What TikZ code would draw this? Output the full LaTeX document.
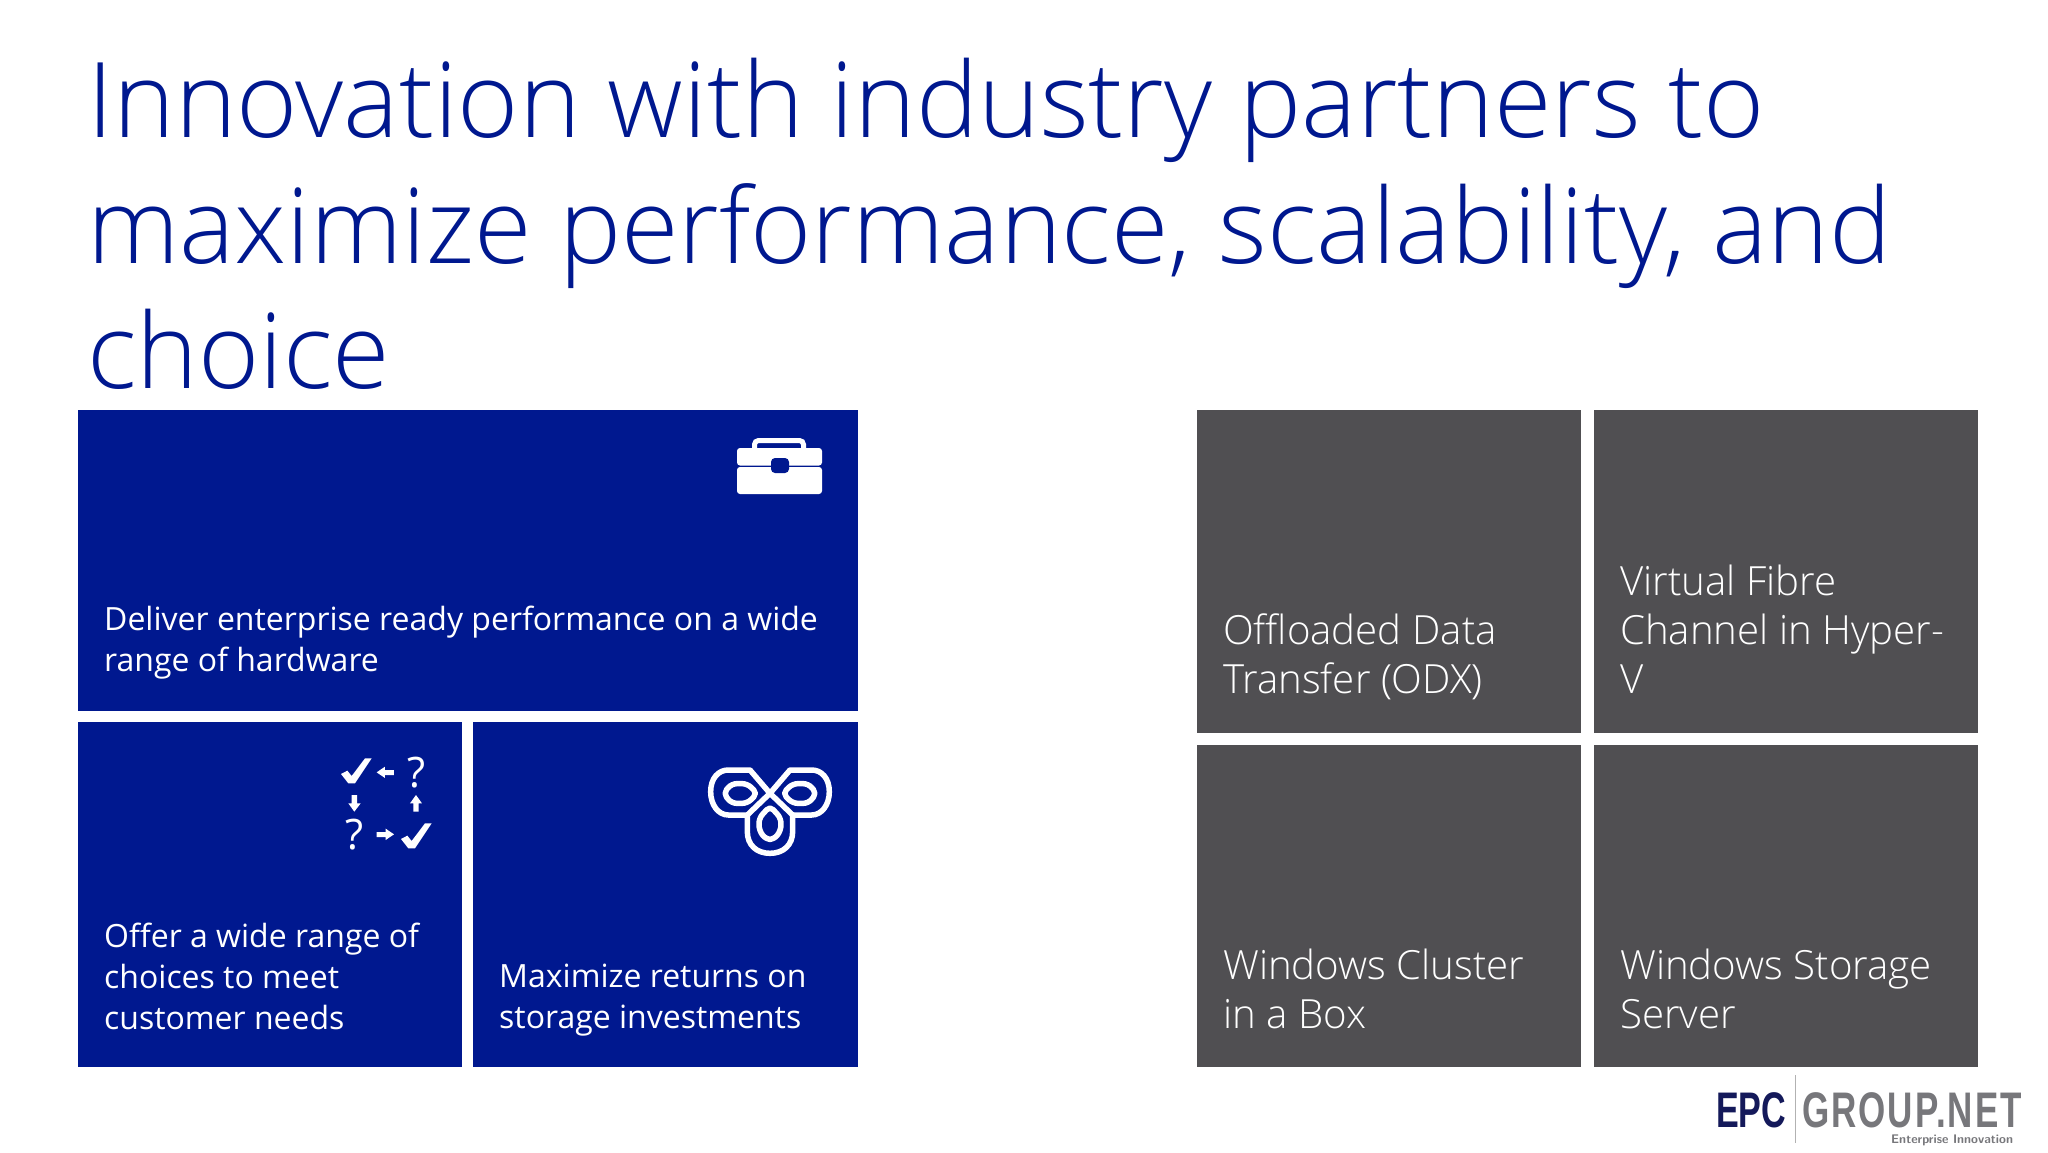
\documentclass[tikz,border=0pt]{standalone}
\usepackage{fontspec}
\setmainfont{Open Sans}[UprightFont=* Light]
\newfontfamily\tilefont{Open Sans}
\newfontfamily\logofont{Liberation Sans}[FakeStretch=0.62,BoldFont=* Bold]
\newfontfamily\logowide{Liberation Sans}[FakeStretch=0.70,BoldFont=* Bold,LetterSpace=4]
\definecolor{bluetile}{HTML}{00188F}
\definecolor{greytile}{HTML}{504F52}
\definecolor{logonavy}{HTML}{14195A}
\definecolor{logogrey}{HTML}{77777B}
\tikzset{
  titletext/.style={anchor=north west,inner sep=0pt,align=left,text=bluetile,font=\fontsize{104.5}{125.5}\selectfont},
  bluetext/.style={anchor=north west,inner sep=0pt,align=left,text=white,font=\tilefont\fontsize{32}{41}\selectfont},
  greytext/.style={anchor=north west,inner sep=0pt,align=left,text=white,font=\fontsize{40.2}{49}\selectfont},
  knotline/.style={draw=white,line width=5.5pt,line join=round},
  knotthin/.style={draw=white,line width=5.5pt,rounded corners=5pt,line join=round},
}
\begin{document}
\begin{tikzpicture}[x=1pt,y=-1pt]
\useasboundingbox (0,0) rectangle (2048,1152);
\fill[white] (0,0) rectangle (2048,1152);
% title
\node[titletext] (title) at (87,58) {Innovation with industry partners to\\maximize performance, scalability, and\\choice};
% tiles
\fill[bluetile] (78,410) rectangle (858,711);
\fill[bluetile] (78,722) rectangle (462,1067);
\fill[bluetile] (473,722) rectangle (858,1067);
\fill[greytile] (1197,410) rectangle (1581,733);
\fill[greytile] (1594,410) rectangle (1978,733);
\fill[greytile] (1197,745) rectangle (1581,1067);
\fill[greytile] (1594,745) rectangle (1978,1067);
% tile text
\node[bluetext] (t1) at (104,606) {Deliver enterprise ready performance on a wide\\range of hardware};
\node[bluetext] (t2) at (104,923) {Offer a wide range of\\choices to meet\\customer needs};
\node[bluetext] (t3) at (499,964) {Maximize returns on\\storage investments};
\node[greytext] (g1) at (1223,614) {Offloaded Data\\Transfer (ODX)};
\node[greytext] (g2) at (1620,565) {Virtual Fibre\\Channel in Hyper-\\V};
\node[greytext] (g3) at (1223,949) {Windows Cluster\\in a Box};
\node[greytext] (g4) at (1620,949) {Windows Storage\\Server};
% toolbox
\draw[white,line width=5pt,rounded corners=4pt] (754.5,450) -- (754.5,440.5) -- (803.5,440.5) -- (803.5,450);
\fill[white,rounded corners=3pt] (737,448) rectangle (822,465.5);
\fill[white,rounded corners=3pt] (737,467) rectangle (822,494);
\fill[bluetile,rounded corners=4pt] (771,458) rectangle (789,473);
% checks and questions
\begin{scope}[shift={(320,740)},x=0.3333pt,y=-0.3333pt]
\fill[white] (63,102)--(82,92)--(95,108)--(135,55)--(155,55)--(105,130)--(85,130)--cycle;
\fill[white] (243,297)--(262,287)--(275,303)--(315,250)--(335,250)--(285,325)--(265,325)--cycle;
\fill[white] (170,97)--(195,80)--(195,90)--(222,90)--(222,105)--(195,105)--(195,114)--cycle;
\fill[white] (222,283)--(197,266)--(197,276)--(170,276)--(170,291)--(197,291)--(197,300)--cycle;
\fill[white] (103,215)--(85,190)--(95,190)--(95,165)--(111,165)--(111,190)--(122,190)--cycle;
\fill[white] (288,165)--(270,190)--(280,190)--(280,215)--(296,215)--(296,190)--(306,190)--cycle;
\end{scope}
\node[text=white,inner sep=0pt,font=\tilefont\fontsize{42}{42}\selectfont] (q1) at (416.5,773) {?};
\node[text=white,inner sep=0pt,font=\tilefont\fontsize{42}{42}\selectfont] (q2) at (354.5,835) {?};
% knot
\begin{scope}[shift={(690,750)},x=0.3333pt,y=-0.3333pt]
\draw[knotline] (240,130)--(180,60)--(115,60) .. controls (85,60) and (62,85) .. (62,125) .. controls (62,165) and (85,195) .. (115,195) -- (172,195) -- (172,245) .. controls (172,285) and (200,310) .. (240,310) .. controls (280,310) and (308,285) .. (308,245) -- (308,195) -- (365,195) .. controls (395,195) and (418,165) .. (418,125) .. controls (418,85) and (395,60) .. (365,60) -- (300,60) -- (240,130) -- (172,195);
\draw[knotline] (240,130)--(308,195);
\draw[knotthin] (100,130)--(125,101)--(172,101)--(202,130)--(172,160)--(125,160)--cycle;
\draw[knotthin] (380,130)--(355,101)--(308,101)--(278,130)--(308,160)--(355,160)--cycle;
\draw[knotthin] (240,168)--(273,205)--(273,240)--(253,268)--(227,268)--(207,240)--(207,205)--cycle;
\end{scope}
% logo
\node[inner sep=0pt,anchor=base west,text=logonavy,font=\logofont\bfseries\fontsize{50}{50}\selectfont,xscale=1.1] (epc) at (1716,1127) {EPC};
\coordinate (sepa) at (1795,1075);
\coordinate (sepb) at (1795,1143);
\draw[gray!60,line width=0.8pt] (sepa) -- (sepb);
\node[inner sep=0pt,anchor=base west,text=logogrey,font=\logowide\bfseries\fontsize{50}{50}\selectfont] (grp) at (1802,1127) {GROUP.NET};
\node[inner sep=0pt,anchor=base west,text=logogrey,font=\sffamily\bfseries\fontsize{12.5}{12.5}\selectfont] (tag) at (1891,1143) {Enterprise Innovation};
\end{tikzpicture}
\end{document}
